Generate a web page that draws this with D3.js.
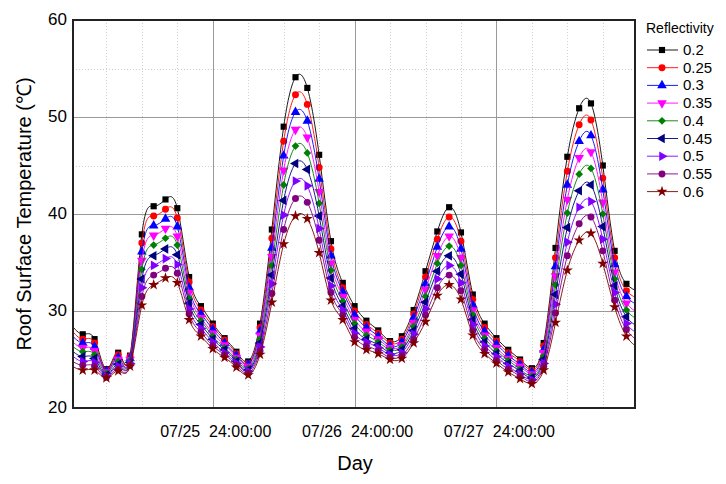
<!DOCTYPE html>
<html>
<head>
<meta charset="utf-8">
<script src="https://cdnjs.cloudflare.com/ajax/libs/d3/7.8.5/d3.min.js"></script>
<style>
  body { margin: 0; background: #fff; }
  text { font-family: "Liberation Sans", Arial, sans-serif; fill: #000; }
</style>
</head>
<body>
<svg id="chart" width="726" height="484"></svg>
<script>
// hours since 07/25 00:00, one reading every 2 hours
var hours = d3.range(0, 97, 2);

var reflectivity = ["0.2", "0.25", "0.3", "0.35", "0.4", "0.45", "0.5", "0.55", "0.6"];

// roof surface temperature (deg C) for each reflectivity
var t020 = [28.6, 27.6, 27.1, 24.0, 25.7, 25.4, 37.9, 40.8, 41.5, 40.6, 33.5, 30.5,
            28.7, 27.2, 25.8, 24.8, 28.7, 38.4, 49.0, 54.1, 53.0, 46.1, 37.2, 32.9,
            30.5, 29.0, 28.0, 26.9, 27.4, 30.1, 34.1, 38.2, 40.7, 38.1, 31.7, 28.7,
            27.2, 26.0, 25.0, 24.1, 26.7, 36.5, 45.9, 50.9, 51.4, 45.0, 36.2, 32.8, 32.0];
var t025 = [28.1, 27.1, 26.7, 23.9, 25.5, 25.3, 37.0, 39.8, 40.5, 39.6, 33.0, 30.1,
            28.4, 27.0, 25.6, 24.6, 28.3, 37.5, 47.5, 52.3, 51.3, 44.8, 36.4, 32.4,
            30.0, 28.6, 27.7, 26.7, 27.1, 29.7, 33.5, 37.4, 39.7, 37.2, 31.2, 28.3,
            26.9, 25.7, 24.8, 23.9, 26.4, 35.5, 44.4, 49.2, 49.7, 43.7, 35.5, 32.1, 31.3];
var t030 = [27.6, 26.7, 26.3, 23.8, 25.2, 25.1, 36.1, 38.8, 39.5, 38.7, 32.4, 29.7,
            28.1, 26.7, 25.4, 24.5, 27.9, 36.5, 46.0, 50.5, 49.6, 43.6, 35.7, 32.0,
            29.6, 28.3, 27.4, 26.4, 26.8, 29.3, 32.8, 36.6, 38.7, 36.4, 30.6, 27.9,
            26.6, 25.4, 24.5, 23.7, 26.0, 34.6, 43.0, 47.5, 48.1, 42.5, 34.8, 31.5, 30.6];
var t035 = [27.0, 26.2, 25.9, 23.7, 25.0, 25.0, 35.2, 37.8, 38.5, 37.7, 31.9, 29.3,
            27.7, 26.5, 25.2, 24.3, 27.5, 35.6, 44.5, 48.7, 47.9, 42.3, 34.9, 31.5,
            29.1, 27.9, 27.1, 26.2, 26.5, 28.8, 32.2, 35.7, 37.7, 35.5, 30.1, 27.5,
            26.2, 25.1, 24.3, 23.5, 25.7, 33.6, 41.5, 45.8, 46.4, 41.2, 34.0, 30.8, 29.8];
var t040 = [26.5, 25.8, 25.5, 23.6, 24.8, 24.9, 34.3, 36.8, 37.5, 36.8, 31.3, 29.0,
            27.4, 26.2, 25.0, 24.1, 27.1, 34.7, 43.0, 47.0, 46.3, 41.1, 34.2, 31.0,
            28.7, 27.5, 26.8, 26.0, 26.3, 28.4, 31.5, 34.9, 36.7, 34.7, 29.6, 27.2,
            25.9, 24.9, 24.0, 23.3, 25.3, 32.7, 40.1, 44.1, 44.7, 40.0, 33.3, 30.1, 29.1];
var t045 = [26.0, 25.3, 25.1, 23.4, 24.5, 24.7, 33.3, 35.7, 36.4, 35.8, 30.8, 28.6,
            27.1, 26.0, 24.8, 23.9, 26.7, 33.7, 41.4, 45.2, 44.6, 39.8, 33.4, 30.5,
            28.2, 27.1, 26.5, 25.7, 26.0, 28.0, 30.9, 34.1, 35.7, 33.8, 29.1, 26.8,
            25.6, 24.6, 23.8, 23.1, 25.0, 31.7, 38.6, 42.4, 43.0, 38.7, 32.6, 29.4, 28.4];
var t050 = [25.5, 24.8, 24.7, 23.3, 24.3, 24.6, 32.4, 34.7, 35.4, 34.8, 30.2, 28.2,
            26.8, 25.7, 24.6, 23.8, 26.3, 32.8, 39.9, 43.4, 42.9, 38.5, 32.6, 30.1,
            27.7, 26.8, 26.2, 25.5, 25.7, 27.6, 30.2, 33.3, 34.7, 32.9, 28.6, 26.4,
            25.3, 24.3, 23.5, 22.9, 24.6, 30.7, 37.1, 40.7, 41.3, 37.4, 31.9, 28.7, 27.7];
var t055 = [24.9, 24.4, 24.3, 23.2, 24.0, 24.4, 31.5, 33.7, 34.4, 33.9, 29.7, 27.8,
            26.4, 25.5, 24.4, 23.6, 25.9, 31.8, 38.4, 41.6, 41.2, 37.3, 31.9, 29.6,
            27.3, 26.4, 25.9, 25.2, 25.4, 27.1, 29.6, 32.4, 33.7, 32.1, 28.0, 26.0,
            24.9, 24.0, 23.3, 22.7, 24.3, 29.8, 35.7, 39.0, 39.7, 36.2, 31.1, 28.1, 26.9];
var t060 = [24.4, 23.9, 23.9, 23.1, 23.8, 24.3, 30.6, 32.7, 33.4, 32.9, 29.1, 27.4,
            26.1, 25.2, 24.2, 23.4, 25.5, 30.9, 36.9, 39.8, 39.5, 36.0, 31.1, 29.1,
            26.8, 26.0, 25.6, 25.0, 25.1, 26.7, 28.9, 31.6, 32.7, 31.2, 27.5, 25.6,
            24.6, 23.7, 23.0, 22.5, 23.9, 28.8, 34.2, 37.3, 38.0, 34.9, 30.4, 27.4, 26.2];

var dayTicks = [24, 48, 72];
var dayLabels = ["07/25  24:00:00", "07/26  24:00:00", "07/27  24:00:00"];
var yTicks = [20, 30, 40, 50, 60];

var allSeries = [t020, t025, t030, t035, t040, t045, t050, t055, t060];
var colors = ["#000000", "#ff0000", "#0000ff", "#ff00ff", "#008000", "#000080", "#8000ff", "#800080", "#800000"];
// symbol type + rotation, origin-style markers
var markers = [
  {type: d3.symbolSquare, rot: 0, size: 38},
  {type: d3.symbolCircle, rot: 0, size: 38},
  {type: d3.symbolTriangle, rot: 0, size: 40},
  {type: d3.symbolTriangle, rot: 180, size: 40},
  {type: d3.symbolSquare, rot: 45, size: 30},
  {type: d3.symbolTriangle, rot: -90, size: 40},
  {type: d3.symbolTriangle, rot: 90, size: 40},
  {type: d3.symbolCircle, rot: 0, size: 38},
  {type: d3.symbolStar, rot: 0, size: 38}
];

var svg = d3.select("#chart");
var plotL = 73, plotT = 20, plotR = 635, plotB = 408;

var x = d3.scaleLinear().domain([0.35, 95.45]).range([plotL, plotR]);
var y = d3.scaleLinear().domain([20, 60]).range([plotB, plotT]);

svg.append("defs").append("clipPath").attr("id", "plotclip")
  .append("rect")
  .attr("x", plotL).attr("y", plotT)
  .attr("width", plotR - plotL).attr("height", plotB - plotT);

//----- grid -----
var minorX = d3.range(6, 96, 6).filter(function(h) { return h % 24 != 0; });
var minorY = [25, 35, 45, 55];

svg.append("g").selectAll("line").data(minorX).enter().append("line")
  .attr("x1", function(d) { return Math.round(x(d)) + 0.5; })
  .attr("x2", function(d) { return Math.round(x(d)) + 0.5; })
  .attr("y1", plotT).attr("y2", plotB)
  .attr("stroke", "#d0d0d0").attr("stroke-dasharray", "1,2");

svg.append("g").selectAll("line").data(minorY).enter().append("line")
  .attr("y1", function(d) { return Math.round(y(d)) + 0.5; })
  .attr("y2", function(d) { return Math.round(y(d)) + 0.5; })
  .attr("x1", plotL).attr("x2", plotR)
  .attr("stroke", "#d0d0d0").attr("stroke-dasharray", "1,2");

svg.append("g").selectAll("line").data(dayTicks).enter().append("line")
  .attr("x1", function(d) { return Math.round(x(d)) + 0.5; })
  .attr("x2", function(d) { return Math.round(x(d)) + 0.5; })
  .attr("y1", plotT).attr("y2", plotB)
  .attr("stroke", "#999");

svg.append("g").selectAll("line").data([30, 40, 50]).enter().append("line")
  .attr("y1", function(d) { return Math.round(y(d)) + 0.5; })
  .attr("y2", function(d) { return Math.round(y(d)) + 0.5; })
  .attr("x1", plotL).attr("x2", plotR)
  .attr("stroke", "#999");

//----- series -----
var line = d3.line()
  .x(function(d, i) { return x(hours[i]); })
  .y(function(d) { return y(d); })
  .curve(d3.curveNatural);

var plot = svg.append("g").attr("clip-path", "url(#plotclip)");

allSeries.forEach(function(vals, k) {
  plot.append("path")
    .attr("d", line(vals))
    .attr("fill", "none")
    .attr("stroke", colors[k])
    .attr("stroke-width", 0.9);

  var sym = d3.symbol().type(markers[k].type).size(markers[k].size);
  plot.append("g").selectAll("path")
    .data(vals.slice(1, vals.length - 1))
    .enter().append("path")
    .attr("d", sym)
    .attr("transform", function(d, i) {
      return "translate(" + x(hours[i + 1]) + "," + y(d) + ") rotate(" + markers[k].rot + ")";
    })
    .attr("fill", colors[k]);
});

//----- frame -----
svg.append("rect")
  .attr("x", plotL).attr("y", plotT)
  .attr("width", plotR - plotL).attr("height", plotB - plotT)
  .attr("fill", "none").attr("stroke", "#222").attr("stroke-width", 2);

//----- axes text -----
svg.append("g").selectAll("text").data(yTicks).enter().append("text")
  .attr("x", 67).attr("y", function(d) { return y(d) - 1; })
  .attr("dy", "0.35em")
  .attr("text-anchor", "end")
  .style("font-size", "17px")
  .text(function(d) { return d; });

svg.append("g").selectAll("text").data(dayTicks).enter().append("text")
  .attr("x", function(d) { return x(d) + 3; })
  .attr("y", 437)
  .attr("text-anchor", "middle")
  .style("font-size", "16px")
  .style("white-space", "pre")
  .text(function(d, i) { return dayLabels[i]; });

svg.append("text")
  .attr("x", 355).attr("y", 470)
  .attr("text-anchor", "middle")
  .style("font-size", "20px")
  .text("Day");

svg.append("text")
  .attr("transform", "translate(31,214) rotate(-90)")
  .attr("text-anchor", "middle")
  .style("font-size", "20px")
  .text("Roof Surface Temperature (\u2103)");

//----- legend -----
var legend = svg.append("g");
legend.append("text")
  .attr("x", 646).attr("y", 33)
  .style("font-size", "14px")
  .text("Reflectivity");

reflectivity.forEach(function(r, k) {
  var ly = 50 + k * 17.7;
  legend.append("line")
    .attr("x1", 647).attr("x2", 678)
    .attr("y1", ly).attr("y2", ly)
    .attr("stroke", colors[k]).attr("stroke-width", 0.9);
  legend.append("path")
    .attr("d", d3.symbol().type(markers[k].type).size(markers[k].size))
    .attr("transform", "translate(662," + ly + ") rotate(" + markers[k].rot + ")")
    .attr("fill", colors[k]);
  legend.append("text")
    .attr("x", 683).attr("y", ly + 5)
    .style("font-size", "15px")
    .text(r);
});
</script>
</body>
</html>
